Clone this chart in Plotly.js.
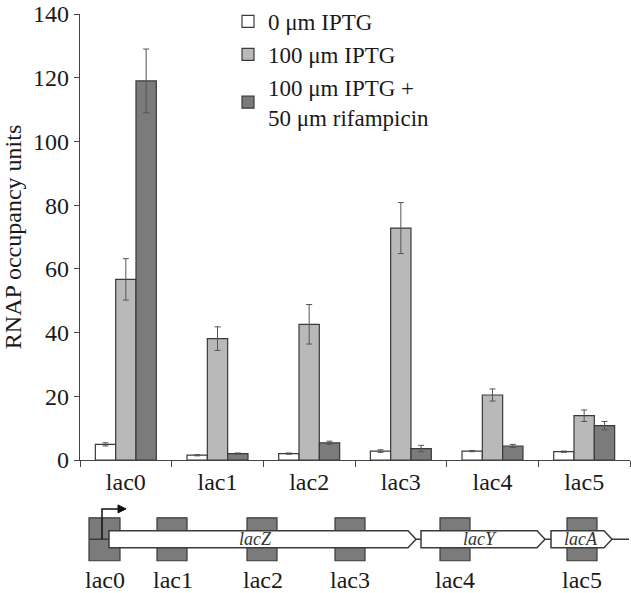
<!DOCTYPE html>
<html>
<head>
<meta charset="utf-8">
<script src="https://cdn.plot.ly/plotly-3.0.1.min.js"></script>
<style>html,body{margin:0;padding:0;background:#fff;}#chart{width:631px;height:593px;}</style>
</head>
<body>
<div id="chart"></div>
<script>
// ---- data ----
const categories = ['lac0', 'lac1', 'lac2', 'lac3', 'lac4', 'lac5'];
const seriesNames = ['0 \u03bcm IPTG', '100 \u03bcm IPTG', '100 \u03bcm IPTG +<br>50 \u03bcm rifampicin'];
const iptg0 = [4.9, 1.5, 2.0, 2.8, 2.8, 2.6];
const iptg0Err = [0.5, 0.2, 0.2, 0.4, 0.2, 0.2];
const iptg100 = [56.7, 38.1, 42.6, 72.8, 20.4, 13.9];
const iptg100Err = [6.5, 3.7, 6.2, 8.0, 1.9, 1.8];
const iptgRif = [119.0, 2.0, 5.4, 3.6, 4.4, 10.8];
const iptgRifErr = [10.0, 0.2, 0.5, 1.0, 0.5, 1.3];
const yTicks = [0, 20, 40, 60, 80, 100, 120, 140];

// gene diagram labels
const siteLabels = ['lac0', 'lac1', 'lac2', 'lac3', 'lac4', 'lac5'];
const geneLabels = ['lacZ', 'lacY', 'lacA'];

// ---- styling / layout ----
const FONT = 'Liberation Serif, Times New Roman, serif';
const FS = 24;
const fills = ['#ffffff', '#b9b9b9', '#7b7b7b'];
const edge = '#3a3a3a';
const L = 80, R = 630, T = 13, B = 460;
const X = px => (px - L) / (R - L);
const Y = py => (B - py) / (B - T);

const vals = [iptg0, iptg100, iptgRif];
const errs = [iptg0Err, iptg100Err, iptgRifErr];
const traces = vals.map((v, i) => ({
  type: 'bar', x: categories, y: v, name: seriesNames[i], legendgroup: 'g' + i,
  marker: {color: fills[i], line: {color: edge, width: 1.2}},
  error_y: {type: 'data', array: errs[i], visible: true, color: '#555', thickness: 1, width: 3}
}));

// diagram geometry (pixel positions of the schematic)
const sitePx = [[89, 120], [157, 187], [247, 277], [335, 365], [440, 470], [567, 597]];
const siteLabelPx = [105, 173, 263, 350, 455, 582];
const genePx = [[109, 408, 416], [421, 537, 545], [551, 604, 612]];
const geneLabelPx = [255, 480, 581];
const boxTop = 518, boxBot = 561, geneTop = 531, geneBot = 548, midY = 539.5;

const shapes = [];
sitePx.forEach(s => shapes.push({type: 'rect', xref: 'paper', yref: 'paper',
  x0: X(s[0]), x1: X(s[1]), y0: Y(boxBot), y1: Y(boxTop),
  fillcolor: '#7b7b7b', line: {color: edge, width: 1.2}}));
shapes.push({type: 'line', xref: 'paper', yref: 'paper', x0: X(89), x1: X(629), y0: Y(midY), y1: Y(midY),
  line: {color: edge, width: 1.5}});
genePx.forEach(g => {
  const p = `M${X(g[0])},${Y(geneTop)} L${X(g[1])},${Y(geneTop)} L${X(g[2])},${Y(midY)} L${X(g[1])},${Y(geneBot)} L${X(g[0])},${Y(geneBot)} Z`;
  shapes.push({type: 'path', xref: 'paper', yref: 'paper', path: p, fillcolor: '#ffffff', line: {color: edge, width: 1.5}});
});
// promoter arrow
shapes.push({type: 'path', xref: 'paper', yref: 'paper',
  path: `M${X(102)},${Y(midY)} L${X(102)},${Y(509)} L${X(119)},${Y(509)}`, line: {color: '#111', width: 1.5}});
shapes.push({type: 'path', xref: 'paper', yref: 'paper',
  path: `M${X(118)},${Y(505)} L${X(126)},${Y(509)} L${X(118)},${Y(513)} Z`, fillcolor: '#111', line: {color: '#111', width: 1}});

const annotations = [];
siteLabels.forEach((t, i) => annotations.push({xref: 'paper', yref: 'paper', x: X(siteLabelPx[i]), y: Y(580),
  text: t, showarrow: false, xanchor: 'center', yanchor: 'middle', font: {family: FONT, size: FS, color: '#1a1a1a'}}));
geneLabels.forEach((t, i) => annotations.push({xref: 'paper', yref: 'paper', x: X(geneLabelPx[i]), y: Y(539),
  text: '<i>' + t + '</i>', showarrow: false, xanchor: 'center', yanchor: 'middle', font: {family: FONT, size: 18, color: '#333'}}));

const layout = {
  width: 631, height: 593,
  margin: {l: L, r: 631 - R, t: T, b: 593 - B, pad: 0},
  paper_bgcolor: '#fff', plot_bgcolor: '#fff',
  barmode: 'group', bargap: 0.335, bargroupgap: 0,
  font: {family: FONT, size: FS, color: '#1a1a1a'},
  xaxis: {type: 'category', showline: true, linecolor: '#444', linewidth: 1.3,
    ticks: 'outside', tickson: 'boundaries', ticklen: 6, tickcolor: '#444',
    tickfont: {family: FONT, size: FS, color: '#1a1a1a'}, showgrid: false, zeroline: false, fixedrange: true},
  yaxis: {range: [0, 140], tickvals: yTicks, showline: true, linecolor: '#444', linewidth: 1.3,
    ticks: 'outside', ticklen: 5, tickcolor: '#444', showgrid: false, zeroline: false,
    tickfont: {family: FONT, size: FS, color: '#1a1a1a'},
    title: {text: 'RNAP occupancy units', font: {family: FONT, size: FS, color: '#1a1a1a'}, standoff: 8}},
  legend: {x: X(228), y: Y(0), xanchor: 'left', yanchor: 'top', bgcolor: 'rgba(0,0,0,0)',
    font: {family: FONT, size: 23, color: '#1a1a1a'}, tracegroupgap: 0, itemwidth: 30},
  showlegend: true,
  shapes: shapes, annotations: annotations
};

Plotly.newPlot('chart', traces, layout, {displayModeBar: false, staticPlot: true});
</script>
</body>
</html>
